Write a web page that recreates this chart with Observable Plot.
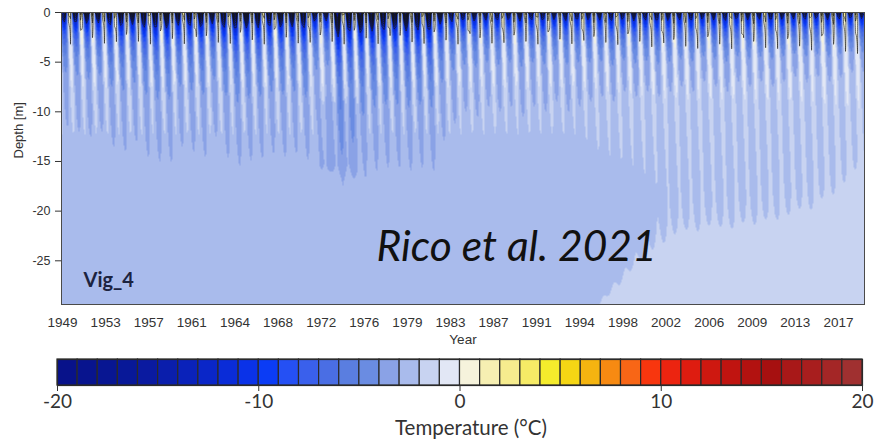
<!DOCTYPE html>
<html><head><meta charset="utf-8">
<script src="https://cdn.jsdelivr.net/npm/d3@7"></script>
<script src="https://cdn.jsdelivr.net/npm/@observablehq/plot@0.6"></script>
<style>
body{margin:0;background:#fff;}
#chart svg, #legend svg{display:block;}
</style></head><body><div id="chart"></div><div id="legend"></div>
<script>
// ---------------- data ----------------
// one winter cycle per year
const years = d3.range(1949, 2020);
// depth (m) reached by the tip of each winter's -3 °C isotherm
const coldTip = [
 11.5, 12, 12.5, 12, 13.5, 14, 13, 14.5, 15, 15,      // 1949-1958
 13.5, 14, 14.5, 12.5, 14.6, 15.4, 14.9, 14.7, 14.2, 14.5, // 1959-1968
 14.2, 14.8, 15.2, 16, 17.4, 16.7, 16.6, 15.9, 15.6, 15.6, // 1969-1978
 15.9, 15.6, 15.9, 12.9, 11.2, 10, 10.5, 9.5, 10, 9.5,     // 1979-1988
 10.5, 9.5, 10, 9, 10, 9.5, 9, 8.5, 9, 8,                  // 1989-1998
 8.5, 8, 8.5, 8, 7.5, 8, 7, 7.5, 8, 7,                     // 1999-2008
 7.5, 7, 7.5, 7, 6.5, 7, 6.5, 7, 6.5, 6, 6                 // 2009-2019
];
// depth (m) of the mean -2 °C isotherm (boundary of the warmer deep zone)
const frontYears = [1949, 1994, 1995.8, 1998, 2000, 2001.5, 2003, 2006, 2010, 2015, 2017, 2019.45];
const frontDepth = [45, 40, 29.6, 26.5, 23.5, 21.5, 20, 19.5, 19, 17, 14, 10];
// colder pocket 1972-1975
const pocketYears = [1971.7, 1975.2];
const pocketDepths = [8.5, 16.0];
const pocketDelta = -0.65;
// axis tick labels
const xTickLabels = ["1949","1953","1957","1961","1964","1968","1972","1976","1979","1983","1987","1991","1994","1998","2002","2006","2009","2013","2017"];
const yTicks = [0, -5, -10, -15, -20, -25];
const legendTicks = [-20, -10, 0, 10, 20];
// colour bins of 1 °C from -20 to 20
const colorThresholds = d3.range(-19, 20);
const colorRange = [
 "#08128a","#08148e","#081692","#081898","#0a1aa0","#0a1eac","#0a22ba","#0a26c8","#0a2cd8","#0a32e8",
 "#0b3cf5","#2550f4","#3a60ec","#4a6ee4","#5a7ee0","#6a8ce2","#8aa2e6","#a9bbec","#c8d3f1","#e2e7f5",
 "#f6f3dc","#f6efb2","#f6ec8e","#f6eb66","#f5ec2c","#f5d614","#f5b410","#f78a12","#f86616","#f8360e",
 "#ec2410","#de1c10","#ce1810","#c01410","#b21210","#a61010","#a81818","#a81e1e","#a42626","#a03030"
];

// ---------------- rendering of the temperature field ----------------
const T0 = 1949, T1 = 2019.45, ZMAX = 29.4;
const dc = 5.5, ns = 12, nsd = 1.6, pc = 0.2, ww = 0.7;
const frontAt = d3.scaleLinear().domain(frontYears).range(frontDepth).clamp(true);
const sstep = x => x <= 0 ? 0 : x >= 1 ? 1 : x * x * (3 - 2 * x);
const win = (v, a, b, w) => sstep((v - a) / w + 0.5) * sstep((b - v) / w + 0.5);
function base(t, z) {
  let tb = Math.max(-2.55, Math.min(-1.1, -2 + 0.022 * (z - frontAt(t))));
  tb += pocketDelta * win(t, pocketYears[0], pocketYears[1], 0.8) * win(z, pocketDepths[0], pocketDepths[1], 2.0);
  return tb;
}
const amp = years.map((y, i) => {
  const D = coldTip[i];
  const tb = base(y + pc + D / (2 * Math.PI * dc), D);
  return Math.max(0.15, tb + 3 - ns * Math.exp(-D / nsd)) * Math.exp(D / dc);
});
const warmPeak = z => 2.9 * Math.exp(-((z / 9.5) ** 2)) + 6 * Math.exp(-z / 1.1);
function temp(t, z) {
  const lag = z / (2 * Math.PI * dc);
  const s = t - lag - pc;
  const n = Math.round(s);
  const i = Math.max(0, Math.min(years.length - 1, n - years[0]));
  const u = s - n;
  const gc = (1 + Math.cos(2 * Math.PI * u)) / 2;
  const cold = (amp[i] * Math.exp(-z / dc) + ns * Math.exp(-z / nsd)) * gc;
  const dw = 0.5 - Math.abs(u);
  const gw = dw < ww / 2 ? Math.cos(Math.PI * dw / ww) ** 2 : 0;
  const v = base(t, z) - cold + warmPeak(z) * gw;
  return v > -0.3 ? -0.3 + (v + 0.3) * 0.45 : v; // thaw plateau near 0 °C
}
const field = (x, y) => temp(x, -y);

const colorOpts = {type: "threshold", domain: colorThresholds, range: colorRange};
const xTickPos = xTickLabels.map((_, i) => 1949.09 + i * 3.782);
const xLabelOf = new Map(xTickPos.map((p, i) => [p, xTickLabels[i]]));

const main = Plot.plot({
  width: 874, height: 352,
  marginTop: 12, marginRight: 10, marginBottom: 48, marginLeft: 61,
  style: {background: "#fff", color: "#333", fontFamily: "'Liberation Sans', Arial, sans-serif"},
  x: {domain: [T0, T1]},
  y: {domain: [-ZMAX, 0]},
  color: colorOpts,
  marks: [
    Plot.raster({x1: T0, x2: T1, y1: -ZMAX, y2: 0, fill: field, pixelSize: 1}),
    Plot.contour({x1: T0, x2: T1, y1: -ZMAX, y2: 0, value: field, thresholds: [-20, -19, -18, -17, -16, -15, -14, -13, -12, 0, 1, 2], stroke: "#151515", strokeWidth: 0.7, strokeOpacity: 0.85, fill: "none"}),
    Plot.frame({stroke: "#4a4a4a"}),
    Plot.axisX({ticks: xTickPos, tickFormat: d => xLabelOf.get(d), tickSize: 0, tickPadding: 13, fontSize: 13.5, label: null}),
    Plot.axisY({ticks: yTicks, tickFormat: d => String(d), tickSize: 6, tickPadding: 5, fontSize: 12.5, label: null}),
    Plot.text(["Year"], {frameAnchor: "bottom", dy: 39, fontSize: 13.5}),
    Plot.text(["Depth [m]"], {frameAnchor: "left", dx: -43, rotate: -90, fontSize: 13}),
    Plot.text(["Vig_4"], {frameAnchor: "bottom-left", dx: 22, dy: -18, textAnchor: "start", fontSize: 20, fontWeight: "bold", fontFamily: "Lato", fill: "#1c2340"}),
    Plot.text(["Rico et al. 2021"], {frameAnchor: "bottom-left", dx: 315, dy: -44, textAnchor: "start", fontSize: 42.5, fontStyle: "italic", fontFamily: "Lato", fill: "#111"})
  ]
});
document.getElementById("chart").append(main);

const bins = d3.range(-20, 20);
const legend = Plot.plot({
  width: 874, height: 90,
  marginTop: 7, marginRight: 12, marginBottom: 57, marginLeft: 57,
  style: {background: "#fff", color: "#333", fontFamily: "Lato, sans-serif"},
  x: {domain: [-20, 20]},
  color: colorOpts,
  marks: [
    Plot.rect(bins, {x1: d => d, x2: d => d + 1, fill: d => d + 0.5, stroke: "#2a2a2a", strokeWidth: 1.2}),
    Plot.frame({stroke: "#2a2a2a", strokeWidth: 1.2}),
    Plot.axisX({ticks: legendTicks, tickFormat: d => String(d), tickSize: 6, tickPadding: 3, fontSize: 19, label: null}),
    Plot.text(["Temperature (°C)"], {frameAnchor: "bottom", dx: 11, dy: 49, fontSize: 20.5})
  ]
});
document.getElementById("legend").append(legend);
</script>
</body></html>
